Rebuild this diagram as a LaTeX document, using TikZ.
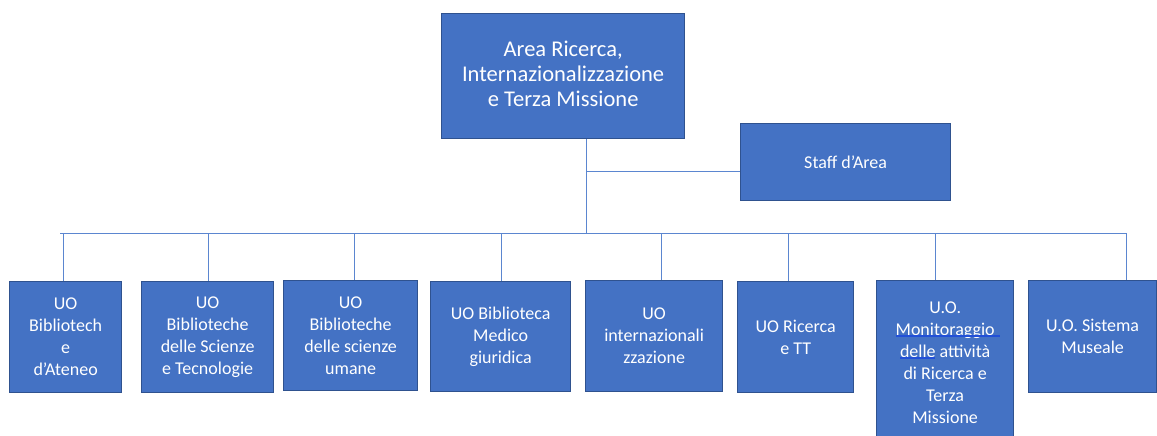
\documentclass[tikz,border=0pt]{standalone}
\usepackage{fontspec}
\setmainfont{Carlito}
\definecolor{boxblue}{HTML}{4472C4}
\definecolor{edgeblue}{HTML}{2F528F}
\definecolor{linkblue}{HTML}{5B86D0}
\definecolor{squig}{HTML}{2250D8}
\tikzset{
  orgbox/.style={draw=edgeblue, fill=boxblue, line width=1.3pt, text=white,
    align=center, inner sep=0pt, anchor=north west,
    font=\fontsize{18}{22}\selectfont},
  bigtext/.style={font=\fontsize{22.5}{25}\selectfont},
  link/.style={draw=linkblue, line width=1pt}
}
\begin{document}
\begin{tikzpicture}[x=1pt,y=-1pt]
\useasboundingbox (0,0) rectangle (1157,436);
\clip (0,0) rectangle (1157,436);
% top
\node[orgbox,bigtext,minimum width=243pt,minimum height=125pt] (top) at (441,13)
  {\raisebox{-2.5pt}{\begin{tabular}{@{}c@{}}Area Ricerca,\\Internazionalizzazione\\e Terza Missione\end{tabular}}};
\node[orgbox,minimum width=210pt,minimum height=77pt] (staff) at (740,123) {Staff d’Area};
% bottom
\node[orgbox,minimum width=112pt,minimum height=111pt] (b1) at (9,281) {UO\\Bibliotech\\e\\d’Ateneo};
\node[orgbox,minimum width=132pt,minimum height=111pt] (b2) at (141,281) {UO\\Biblioteche\\delle Scienze\\e Tecnologie};
\node[orgbox,minimum width=134pt,minimum height=110pt] (b3) at (283,280) {UO\\Biblioteche\\delle scienze\\umane};
\node[orgbox,minimum width=140pt,minimum height=110pt] (b4) at (430,281) {UO Biblioteca\\Medico\\giuridica};
\node[orgbox,minimum width=137pt,minimum height=111pt] (b5) at (585,280) {UO\\internazionali\\zzazione};
\node[orgbox,minimum width=116pt,minimum height=111pt] (b6) at (737,281) {UO Ricerca\\e TT};
\node[orgbox,minimum width=137pt,minimum height=164pt] (b7) at (876,280) {U.O.\\Monitoraggio\\delle attività\\di Ricerca e\\Terza\\Missione};
\node[orgbox,minimum width=128pt,minimum height=112pt] (b8) at (1028,280) {U.O. Sistema\\Museale};
% bus coordinates
\coordinate (bl) at (60,233);
\coordinate (br) at (1127,233);
\coordinate (hub) at (586,233);
\coordinate (sj) at (586,171);
\coordinate (d1) at (63.5,233);
\coordinate (d2) at (208.5,233);
\coordinate (d3) at (354,233);
\coordinate (d4) at (501,233);
\coordinate (d5) at (661.5,233);
\coordinate (d6) at (788.5,233);
\coordinate (d7) at (935.5,233);
\coordinate (d8) at (1126,233);
% connectors
\draw[link] (top.south -| hub) -- (hub);
\draw[link] (sj) -- (sj -| staff.west);
\draw[link] (bl) -- (br);
\foreach \i in {1,...,8} {\draw[link] (d\i) -- (d\i |- b\i.north);}
% spell-check underlines
\draw[squig, line width=1.2pt] (896,336) -- (1000,336);
\draw[squig, line width=1.2pt] (900,358) -- (935,358);
\end{tikzpicture}
\end{document}
